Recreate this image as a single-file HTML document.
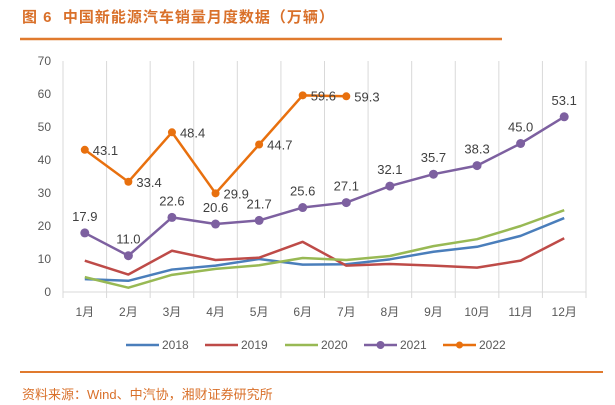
<!DOCTYPE html>
<html><head><meta charset="utf-8"><style>
body{margin:0;background:#fff;width:615px;height:405px;overflow:hidden;font-family:"Liberation Sans","Noto Sans CJK SC",sans-serif}
#title{position:absolute;left:22px;top:6px;font-size:15px;font-weight:bold;color:#d9702a;letter-spacing:1px}
#src{position:absolute;left:22px;top:384px;font-size:13px;color:#d9702a}
</style></head><body>
<div id="title">图 6&nbsp; 中国新能源汽车销量月度数据（万辆）</div>
<svg id="c" width="615" height="405" style="position:absolute;left:0;top:0"></svg>
<div id="src">资料来源：Wind、中汽协，湘财证券研究所</div>
<script>
const months=["1月","2月","3月","4月","5月","6月","7月","8月","9月","10月","11月","12月"];
const yTicks=[0,10,20,30,40,50,60,70];
const s2018=[3.9,3.4,6.8,8,10,8.3,8.4,9.9,12.2,13.7,17,22.4];
const s2019=[9.5,5.3,12.5,9.7,10.4,15.2,8,8.5,8,7.4,9.5,16.3];
const s2020=[4.5,1.3,5.2,7,8.1,10.3,9.7,10.9,13.9,16,20,24.8];
const s2021=[17.9,11.0,22.6,20.6,21.7,25.6,27.1,32.1,35.7,38.3,45.0,53.1];
const s2022=[43.1,33.4,48.4,29.9,44.7,59.6,59.3];
const NS="http://www.w3.org/2000/svg";
const svg=document.getElementById('c');
const L=63,R=586,T=61,B=292;
const cw=(R-L)/months.length;
const x=i=>L+cw*(i+0.5);
const y=v=>B-(v/70)*(B-T);
function el(t,a,p){const e=document.createElementNS(NS,t);for(const k in a)e.setAttribute(k,a[k]);(p||svg).appendChild(e);return e;}
let r1=el('line',{x1:20,y1:39,x2:502,y2:39,stroke:'#e07a2e','stroke-width':2.5});


let r2=el('line',{x1:20,y1:372,x2:603,y2:372,stroke:'#e07a2e','stroke-width':2});


for(let i=0;i<=months.length;i++){
 const g=el('line',{x1:L+cw*i,y1:T,x2:L+cw*i,y2:B+6,stroke:'#d9d9d9','stroke-width':1});
 
 
}
const ax=el('line',{x1:L,y1:B,x2:R,y2:B,stroke:'#d9d9d9','stroke-width':1});


yTicks.forEach(v=>{
 const t=el('text',{x:L-12,y:y(v)+4,'text-anchor':'end','font-size':12,fill:'#595959'});
 t.textContent=v;
 
 
});
months.forEach((m,i)=>{
 const t=el('text',{x:x(i),y:B+24,'text-anchor':'middle','font-size':12,fill:'#595959'});
 t.textContent=m;
 
 
});
function series(d,color,name,marker){
 const p=el('polyline',{points:d.map((v,i)=>x(i)+','+y(v)).join(' '),fill:'none',stroke:color,'stroke-width':2.5,'stroke-linejoin':'round'});
 
 
 if(marker)d.forEach((v,i)=>{
  const c=el('circle',{cx:x(i),cy:y(v),r:marker,fill:color});
  
  
 });
}
series(s2018,'#4a7ebb','2018');
series(s2019,'#be4b48','2019');
series(s2020,'#98b954','2020');
series(s2021,'#7d60a0','2021',4.5);
series(s2022,'#e8700e','2022',4);
function lab(d,dx,dy,anchor){
 d.forEach((v,i)=>{
  const t=el('text',{x:x(i)+dx,y:y(v)+dy,'text-anchor':anchor,'font-size':13,fill:'#404040'});
  t.textContent=v.toFixed(1);
  
  
 });
}
lab(s2021,0,-12,'middle');
lab(s2022,8,5,'start');
const leg=[["2018",'#4a7ebb',0],["2019",'#be4b48',0],["2020",'#98b954',0],["2021",'#7d60a0',4],["2022",'#e8700e',3.5]];
const lx=[126,205,285,364,443];
leg.forEach((l,i)=>{
 const g=el('g',{});
 
 
 el('line',{x1:lx[i],y1:345,x2:lx[i]+33,y2:345,stroke:l[1],'stroke-width':2.5},g);
 if(l[2])el('circle',{cx:lx[i]+16.5,cy:345,r:l[2],fill:l[1]},g);
 const t=el('text',{x:lx[i]+36,y:349,'font-size':12,fill:'#595959'},g);
 t.textContent=l[0];
});
</script>
</body></html>
